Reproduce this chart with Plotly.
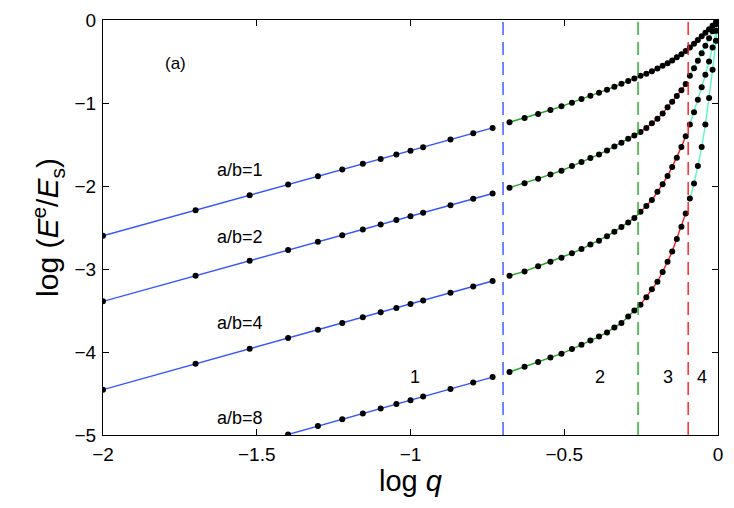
import plotly.graph_objects as go

# log q positions of the computed points (q = 0.01 ... 1)
x_logq = [-2.0, -1.699, -1.523, -1.398, -1.301, -1.222, -1.155, -1.097, -1.046, -1.0,
          -0.959, -0.870, -0.796, -0.733,
          -0.678, -0.629, -0.585, -0.545, -0.509, -0.475, -0.444, -0.415, -0.387, -0.361,
          -0.337, -0.314, -0.292, -0.272,
          -0.252, -0.233, -0.215, -0.197, -0.180, -0.164, -0.149, -0.134, -0.119, -0.105,
          -0.0915, -0.078, -0.0655, -0.053, -0.041, -0.029, -0.0177, -0.0066, 0.0]

# log(E^e/E_s) for each aspect ratio
y_ab1 = [-2.60, -2.291, -2.111, -1.982, -1.883, -1.802, -1.733, -1.674, -1.621, -1.574,
         -1.532, -1.441, -1.365, -1.300,
         -1.232, -1.180, -1.132, -1.084, -1.040, -0.996, -0.952, -0.912, -0.876, -0.840,
         -0.804, -0.768, -0.736, -0.704,
         -0.672, -0.648, -0.616, -0.584, -0.552, -0.520, -0.488, -0.448, -0.412, -0.372,
         -0.330, -0.285, -0.240, -0.197, -0.155, -0.112, -0.070, -0.027, 0.0]
y_ab2 = [-3.39, -3.081, -2.901, -2.772, -2.673, -2.592, -2.523, -2.464, -2.411, -2.364,
         -2.322, -2.231, -2.155, -2.090,
         -2.020, -1.968, -1.912, -1.860, -1.816, -1.760, -1.712, -1.664, -1.620, -1.572,
         -1.524, -1.480, -1.432, -1.392,
         -1.348, -1.300, -1.245, -1.190, -1.125, -1.050, -0.985, -0.915, -0.845, -0.770,
         -0.672, -0.580, -0.490, -0.400, -0.310, -0.220, -0.135, -0.050, 0.0]
y_ab4 = [-4.454, -4.143, -3.961, -3.832, -3.732, -3.650, -3.581, -3.521, -3.469, -3.421,
         -3.379, -3.287, -3.210, -3.145,
         -3.081, -3.029, -2.967, -2.913, -2.865, -2.810, -2.760, -2.705, -2.660, -2.605,
         -2.550, -2.495, -2.440, -2.385,
         -2.310, -2.240, -2.170, -2.070, -1.980, -1.880, -1.770, -1.660, -1.530, -1.400,
         -1.260, -1.110, -0.960, -0.810, -0.660, -0.500, -0.330, -0.130, 0.0]
y_ab8 = [-5.62, -5.307, -5.124, -4.994, -4.893, -4.811, -4.741, -4.681, -4.628, -4.580,
         -4.537, -4.445, -4.368, -4.302,
         -4.241, -4.178, -4.121, -4.066, -4.020, -3.965, -3.914, -3.862, -3.814, -3.764,
         -3.706, -3.650, -3.572, -3.500,
         -3.430, -3.340, -3.245, -3.153, -3.035, -2.913, -2.790, -2.640, -2.490, -2.330,
         -2.150, -1.970, -1.760, -1.530, -1.260, -0.940, -0.600, -0.250, 0.0]

curves = [y_ab1, y_ab2, y_ab4, y_ab8]
curve_labels = ['a/b=1', 'a/b=2', 'a/b=4', 'a/b=8']
label_y = [-1.81, -2.61, -3.65, -4.80]

# region boundaries (log q) and region numbers
boundary_logq = [-0.699, -0.26, -0.097]
region_names = ['1', '2', '3', '4']
region_label_x = [-0.985, -0.384, -0.164, -0.053]
region_label_y = [-4.30, -4.30, -4.30, -4.30]

blue = '#3355ff'
green = '#22a822'
red = '#ff1a1a'
cyan = '#5cf5c4'

# index slices for each region: (start, stop, colour)
segments = [(0, 14, blue), (14, 29, green), (28, 38, red), (38, 47, cyan)]

fig = go.Figure()

for y in curves:
    for start, stop, col in segments:
        fig.add_trace(go.Scatter(
            x=x_logq[start:stop], y=y[start:stop], mode='lines',
            line=dict(color=col, width=1.4), showlegend=False, hoverinfo='skip'
        ))

for y in curves:
    fig.add_trace(go.Scatter(
        x=x_logq, y=y, mode='markers',
        marker=dict(color='black', size=6), showlegend=False
    ))

for bx, col in zip(boundary_logq, [blue, green, red]):
    fig.add_shape(type='line', x0=bx, x1=bx, y0=-5, y1=0, xref='x', yref='y',
                  line=dict(color=col, width=1.4, dash='13px,7px'))

font = 'Liberation Sans, Arial, sans-serif'
for lab, ly in zip(curve_labels, label_y):
    fig.add_annotation(x=-1.554, y=ly, text=lab, showarrow=False,
                       font=dict(size=18, color='black', family=font))
for name, rx, ry in zip(region_names, region_label_x, region_label_y):
    fig.add_annotation(x=rx, y=ry, text=name, showarrow=False,
                       font=dict(size=18, color='black', family=font))
fig.add_annotation(x=-1.764, y=-0.52, text='(a)', showarrow=False,
                   font=dict(size=17, color='black', family=font))

axis_style = dict(showline=True, linecolor='black', linewidth=1.2, mirror='ticks',
                  ticks='inside', ticklen=6, tickcolor='black', showgrid=False,
                  zeroline=False, automargin=False,
                  tickfont=dict(size=19, color='black', family=font))

fig.update_xaxes(range=[-2, 0], tickvals=[-2, -1.5, -1, -0.5, 0],
                 ticktext=['\u22122', '\u22121.5', '\u22121', '\u22120.5', '0'],
                 ticklabelstandoff=2,
                 title=dict(text='log <i>q</i>', font=dict(size=29, color='black', family=font),
                            standoff=4),
                 **axis_style)
fig.update_yaxes(range=[-5, 0], tickvals=[0, -1, -2, -3, -4, -5],
                 ticktext=['0', '\u22121', '\u22122', '\u22123', '\u22124', '\u22125'],
                 ticklabelstandoff=2,
                 title=dict(text='log (<i>E</i><sup>e</sup>/<i>E</i><sub>s</sub>)',
                            font=dict(size=30, color='black', family=font), standoff=6),
                 **axis_style)

# page body adds an 8px offset, margins compensate
fig.update_layout(
    width=734, height=508,
    margin=dict(l=95, r=24, t=12, b=81),
    paper_bgcolor='white', plot_bgcolor='white',
    showlegend=False
)

fig.write_html('out.html')
